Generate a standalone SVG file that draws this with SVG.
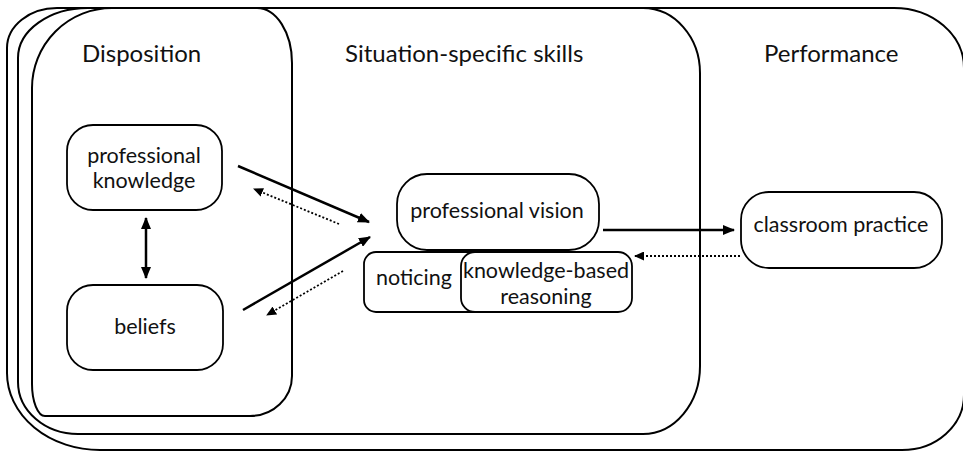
<svg xmlns="http://www.w3.org/2000/svg" width="963" height="453" viewBox="0 0 963 453">
<style>
  .frame { fill: none; stroke: #000; stroke-width: 2; }
  .box { fill: #fff; stroke: #000; stroke-width: 1.8; }
  .title { font-family: Lato, "Open Sans", "Liberation Sans", sans-serif; font-size: 24px; fill: #111; }
  .lbl { font-family: Lato, "Open Sans", "Liberation Sans", sans-serif; font-size: 21.5px; fill: #111; text-anchor: middle; }
  .solid { fill: none; stroke: #000; stroke-width: 2.5; }
  .dot { fill: none; stroke: #000; stroke-width: 1.8; stroke-dasharray: 2 2; }
</style>
<defs>
  <marker id="ah" viewBox="0 0 12 10" refX="11" refY="5" markerWidth="12" markerHeight="10" markerUnits="userSpaceOnUse" orient="auto-start-reverse">
    <path d="M0 0 L12 5 L0 10 Z" fill="#000"/>
  </marker>
  <marker id="as" viewBox="0 0 10 9" refX="9" refY="4.5" markerWidth="10" markerHeight="9" markerUnits="userSpaceOnUse" orient="auto">
    <path d="M0 0 L10 4.5 L0 9 Z" fill="#000"/>
  </marker>
</defs>

<g id="performance">
  <path class="frame" d="M 57 8 H 894 A 70 60 0 0 1 964 68 V 395 A 62 55 0 0 1 902 450 H 100 A 93 77 0 0 1 7 373 V 48 A 50 40 0 0 1 57 8 Z"/>
  <text class="title" x="764" y="62">Performance</text>
</g>
<g id="situation-specific-skills">
  <path class="frame" d="M 88 8 H 643 A 57 65 0 0 1 700 73 V 366 A 57 68 0 0 1 643 434 H 78 A 60 52 0 0 1 18 382 V 58 A 70 50 0 0 1 88 8 Z"/>
  <text class="title" x="345" y="62">Situation-specific skills</text>
</g>
<g id="disposition">
  <path class="frame" d="M 112 8 H 257 A 35 55 0 0 1 292 63 V 376 A 42 40 0 0 1 250 416 H 45 A 13 32 0 0 1 32 384 V 88 A 80 80 0 0 1 112 8 Z"/>
  <text class="title" x="82" y="62">Disposition</text>
</g>

<g id="professional-knowledge">
  <rect class="box" x="67" y="125" width="155" height="85" rx="26" ry="26"/>
  <text class="lbl" x="144" y="163">professional</text>
  <text class="lbl" x="144" y="188">knowledge</text>
</g>
<g id="beliefs">
  <rect class="box" x="67" y="285" width="156" height="85" rx="26" ry="26"/>
  <text class="lbl" x="145" y="334">beliefs</text>
</g>
<g id="professional-vision">
  <rect class="box" x="397" y="174" width="202" height="76" rx="30" ry="30"/>
  <text class="lbl" x="497" y="218">professional vision</text>
</g>
<g id="noticing">
  <rect class="box" x="364" y="252" width="130" height="60" rx="12" ry="12"/>
  <text class="lbl" x="414" y="285">noticing</text>
</g>
<g id="knowledge-based-reasoning">
  <rect class="box" x="461" y="252" width="171" height="60" rx="14" ry="14"/>
  <text class="lbl" x="546" y="278">knowledge-based</text>
  <text class="lbl" x="546" y="304">reasoning</text>
</g>
<g id="classroom-practice">
  <rect class="box" x="741" y="192" width="201" height="76" rx="28" ry="28"/>
  <text class="lbl" x="841" y="232">classroom practice</text>
</g>

<g id="connectors">
  <line class="solid" x1="146" y1="218" x2="146" y2="278" marker-start="url(#ah)" marker-end="url(#ah)"/>
  <line class="solid" x1="238" y1="166" x2="369" y2="222" marker-end="url(#ah)"/>
  <line class="dot" x1="339" y1="224" x2="254" y2="189" marker-end="url(#as)"/>
  <line class="solid" x1="243" y1="310" x2="370" y2="237" marker-end="url(#ah)"/>
  <line class="dot" x1="343" y1="271" x2="267" y2="315" marker-end="url(#as)"/>
  <line class="solid" x1="603" y1="230" x2="734" y2="230" marker-end="url(#ah)"/>
  <line class="dot" x1="740" y1="256" x2="635" y2="256" marker-end="url(#as)"/>
</g>
</svg>
